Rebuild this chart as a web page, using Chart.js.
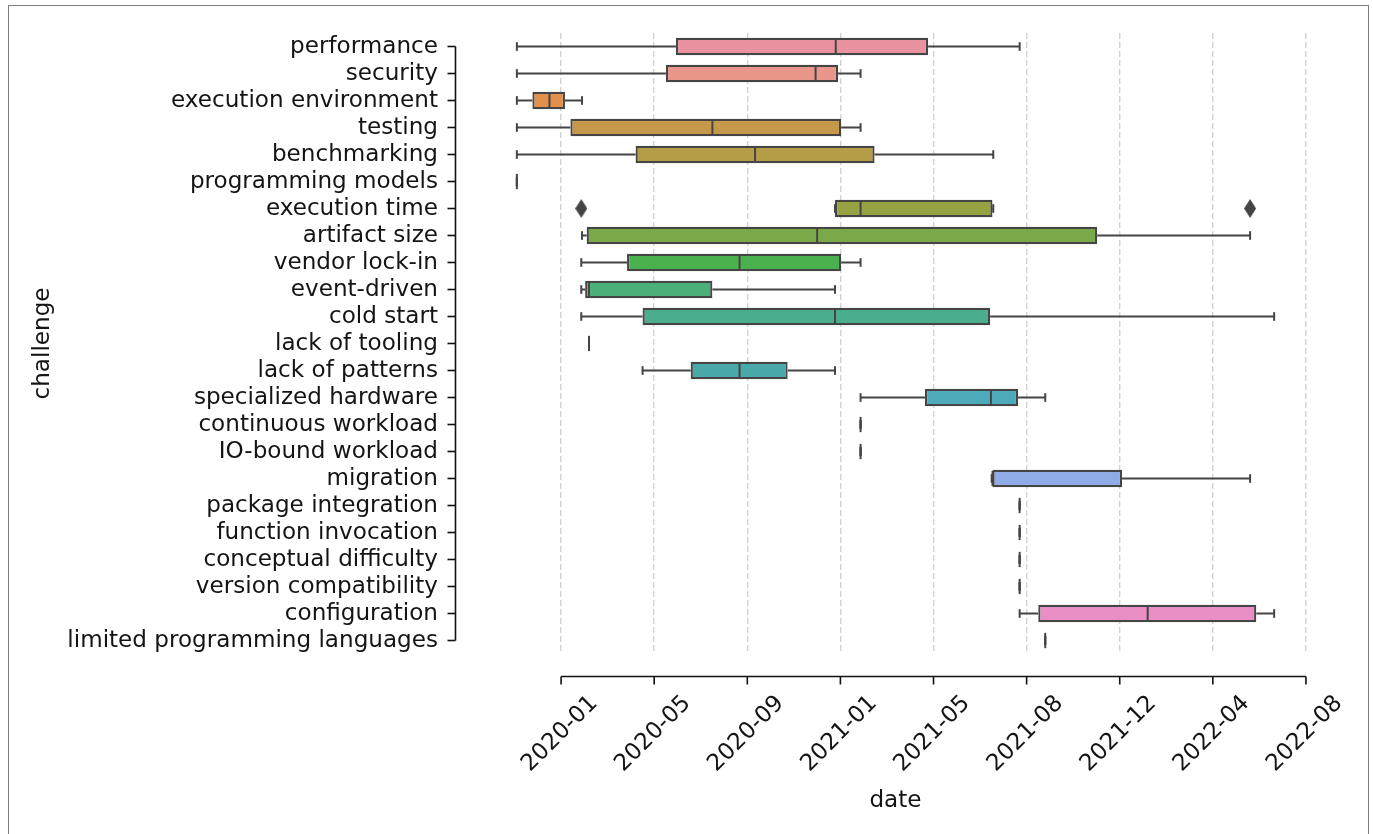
<!DOCTYPE html>
<html>
<head>
<meta charset="utf-8">
<script src="https://cdn.jsdelivr.net/npm/chart.js@4"></script>
<style>
  html, body { margin: 0; padding: 0; background: #fff; overflow: hidden; }
  #wrap { position: relative; width: 1373px; height: 834px; }
  #challenge_chart { display: block; }
  #frame { position: absolute; left: 8px; top: 5px; width: 1361px; height: 860px; box-sizing: border-box; border: 1px solid #7f7f7f; pointer-events: none; }
</style>
</head>
<body>
<div id="wrap">
  <canvas id="challenge_chart" width="1373" height="834"></canvas>
  <div id="frame"></div>
</div>
<script>
//categories, top to bottom
const challenges = ['performance', 'security', 'execution environment', 'testing', 'benchmarking',
    'programming models', 'execution time', 'artifact size', 'vendor lock-in', 'event-driven',
    'cold start', 'lack of tooling', 'lack of patterns', 'specialized hardware', 'continuous workload',
    'IO-bound workload', 'migration', 'package integration', 'function invocation',
    'conceptual difficulty', 'version compatibility', 'configuration', 'limited programming languages'];

//box plot stats per challenge
const whiskerLow = ['2019-11-13', '2019-11-13', '2019-11-13', '2019-11-13', '2019-11-13',
    '2019-11-13', '2020-12-27', '2020-02-05', '2020-02-04', '2020-02-04',
    '2020-02-04', '2020-02-14', '2020-04-23', '2021-01-29', '2021-01-29',
    '2021-01-29', '2021-07-17', '2021-08-22', '2021-08-22',
    '2021-08-22', '2021-08-22', '2021-08-22', '2021-09-24'];
const q1 = ['2020-06-05', '2020-05-23', '2019-12-03', '2020-01-21', '2020-04-14',
    '2019-11-13', '2020-12-27', '2020-02-11', '2020-04-03', '2020-02-09',
    '2020-04-23', '2020-02-14', '2020-06-24', '2021-04-22', '2021-01-29',
    '2021-01-29', '2021-07-18', '2021-08-22', '2021-08-22',
    '2021-08-22', '2021-08-22', '2021-09-15', '2021-09-24'];
const median = ['2020-12-28', '2020-12-02', '2019-12-25', '2020-07-22', '2020-09-15',
    '2019-11-13', '2021-01-29', '2020-12-04', '2020-08-26', '2020-02-14',
    '2020-12-27', '2020-02-14', '2020-08-26', '2021-07-16', '2021-01-29',
    '2021-01-29', '2021-07-18', '2021-08-22', '2021-08-22',
    '2021-08-22', '2021-08-22', '2022-02-03', '2021-09-24'];
const q3 = ['2021-04-26', '2020-12-31', '2020-01-14', '2021-01-04', '2021-02-16',
    '2019-11-13', '2021-07-18', '2021-11-30', '2021-01-04', '2020-07-22',
    '2021-07-15', '2020-02-14', '2020-10-27', '2021-08-20', '2021-01-29',
    '2021-01-29', '2022-01-01', '2021-08-22', '2021-08-22',
    '2021-08-22', '2021-08-22', '2022-06-23', '2021-09-24'];
const whiskerHigh = ['2021-08-22', '2021-01-29', '2020-02-05', '2021-01-29', '2021-07-19',
    '2019-11-13', '2021-07-19', '2022-06-15', '2021-01-29', '2020-12-27',
    '2022-07-16', '2020-02-14', '2020-12-27', '2021-09-24', '2021-01-29',
    '2021-01-29', '2022-06-15', '2021-08-22', '2021-08-22',
    '2021-08-22', '2021-08-22', '2022-07-16', '2021-09-24'];

//outliers (diamonds)
const outlierChallenge = ['execution time', 'execution time'];
const outlierDate = ['2020-02-04', '2022-06-15'];

//x axis ticks
const tickDates = ['2020-01-09', '2020-05-08', '2020-09-05', '2021-01-03', '2021-05-03',
    '2021-08-31', '2021-12-29', '2022-04-28', '2022-08-26'];
const tickLabels = ['2020-01', '2020-05', '2020-09', '2021-01', '2021-05',
    '2021-08', '2021-12', '2022-04', '2022-08'];

const boxColors = ['#e8929f', '#e8978a', '#e2904c', '#c6994a', '#b59c46',
    '#a6a044', '#97a343', '#7ba848', '#4bb14f', '#4aaf78',
    '#4aad8e', '#4aab9c', '#4aaaaa', '#4caabb', '#4fa8cc',
    '#5aa3dd', '#8facE6', '#a8a5e8', '#c19ce8', '#d696e6',
    '#e58fdc', '#e88fc6', '#e891b3'];

const lineGray = '#454545';
const textColor = '#141414';
const fontFamily = "'DejaVu Sans', sans-serif";
const fontSize = 23.1;

//date string -> days since epoch
function toDay(s) {
    return Date.UTC(+s.slice(0, 4), +s.slice(5, 7) - 1, +s.slice(8, 10)) / 86400000;
}

//xlim like matplotlib: data range + 5% margin
const allDays = whiskerLow.concat(whiskerHigh, outlierDate).map(toDay);
const dMin = Math.min(...allDays), dMax = Math.max(...allDays);
const xMargin = (dMax - dMin) * 0.05;

//thin diamond marker for outliers
function makeDiamond(w, h, color) {
    const c = document.createElement('canvas');
    c.width = w; c.height = h;
    const g = c.getContext('2d');
    g.fillStyle = color;
    g.beginPath();
    g.moveTo(w / 2, 0); g.lineTo(w, h / 2); g.lineTo(w / 2, h); g.lineTo(0, h / 2);
    g.closePath();
    g.fill();
    return c;
}

const ySpineOffset = 23.5;
const xSpineOffset = 22.5;

//whiskers, caps, medians and the offset/trimmed spines
const boxLines = {
    id: 'boxLines',
    afterDatasetsDraw(chart) {
        const {ctx, chartArea, scales: {x, y}} = chart;
        const bars = chart.getDatasetMeta(0).data;
        const seg = (x0, y0, x1, y1) => { ctx.beginPath(); ctx.moveTo(x0, y0); ctx.lineTo(x1, y1); ctx.stroke(); };
        ctx.save();
        ctx.strokeStyle = lineGray;
        ctx.lineWidth = 2;
        challenges.forEach((c, i) => {
            const cy = y.getPixelForValue(i);
            const half = bars[i].height / 2;
            const lo = x.getPixelForValue(toDay(whiskerLow[i]));
            const hi = x.getPixelForValue(toDay(whiskerHigh[i]));
            const b0 = x.getPixelForValue(toDay(q1[i]));
            const b1 = x.getPixelForValue(toDay(q3[i]));
            const md = x.getPixelForValue(toDay(median[i]));
            seg(lo, cy, b0, cy);
            seg(b1, cy, hi, cy);
            seg(lo, cy - half / 2, lo, cy + half / 2);
            seg(hi, cy - half / 2, hi, cy + half / 2);
            seg(md, cy - half + 1, md, cy + half - 1);
        });
        ctx.restore();

        //spines
        ctx.save();
        ctx.strokeStyle = '#111111';
        ctx.lineWidth = 1.6;
        const sx = chartArea.left - ySpineOffset;
        const yTop = y.getPixelForValue(0), yBot = y.getPixelForValue(challenges.length - 1);
        seg(sx, yTop, sx, yBot);
        challenges.forEach((c, i) => {
            const py = y.getPixelForValue(i);
            seg(sx - 8, py, sx, py);
        });
        const sy = chartArea.bottom + xSpineOffset;
        const xL = x.getPixelForValue(toDay(tickDates[0]));
        const xR = x.getPixelForValue(toDay(tickDates[tickDates.length - 1]));
        seg(xL, sy, xR, sy);
        tickDates.forEach(d => {
            const px = x.getPixelForValue(toDay(d));
            seg(px, sy, px, sy + 8);
        });
        ctx.restore();
    }
};

const ctx = document.getElementById('challenge_chart').getContext('2d');
new Chart(ctx, {
    type: 'bar',
    data: {
        labels: challenges,
        datasets: [{
            type: 'bar',
            indexAxis: 'y',
            data: challenges.map((c, i) => [toDay(q1[i]), toDay(q3[i])]),
            backgroundColor: boxColors,
            borderColor: lineGray,
            borderWidth: 2.2,
            borderSkipped: false,
            categoryPercentage: 1,
            barPercentage: 0.64
        }, {
            type: 'scatter',
            indexAxis: 'y',
            data: outlierDate.map((d, i) => ({x: toDay(d), y: outlierChallenge[i]})),
            pointStyle: makeDiamond(12, 19, lineGray),
            clip: false
        }]
    },
    options: {
        indexAxis: 'y',
        responsive: false,
        animation: false,
        layout: { padding: { left: 0, right: 61, top: 33, bottom: 0 } },
        plugins: { legend: { display: false }, tooltip: { enabled: false } },
        scales: {
            x: {
                type: 'linear',
                position: 'bottom',
                min: dMin - xMargin,
                max: dMax + xMargin,
                afterBuildTicks: scale => { scale.ticks = tickDates.map(d => ({value: toDay(d)})); },
                afterFit: scale => {
                    scale.height = 180;
                    scale.paddingLeft = 0;
                    scale.paddingRight = 0;
                },
                grid: { color: '#d2d2d2', lineWidth: 1.4, drawTicks: false },
                border: { display: false, dash: [6, 3] },
                ticks: {
                    autoSkip: false,
                    minRotation: 45,
                    maxRotation: 45,
                    padding: 36,
                    labelOffset: 33,
                    color: textColor,
                    font: { family: fontFamily, size: fontSize },
                    callback: (value, index) => tickLabels[index]
                },
                title: {
                    display: true,
                    text: 'date',
                    color: textColor,
                    font: { family: fontFamily, size: fontSize },
                    padding: { top: 0, bottom: 19 }
                }
            },
            y: {
                type: 'category',
                labels: challenges,
                offset: true,
                afterFit: scale => {
                    scale.width = 479;
                    scale.paddingTop = 0;
                    scale.paddingBottom = 0;
                },
                grid: { display: false, drawTicks: false },
                border: { display: false },
                ticks: {
                    autoSkip: false,
                    padding: 41,
                    color: textColor,
                    font: { family: fontFamily, size: fontSize }
                },
                title: {
                    display: true,
                    text: 'challenge',
                    color: textColor,
                    font: { family: fontFamily, size: fontSize },
                    padding: { top: 29.5, bottom: 0 }
                }
            }
        }
    },
    plugins: [boxLines]
});
</script>
</body>
</html>
